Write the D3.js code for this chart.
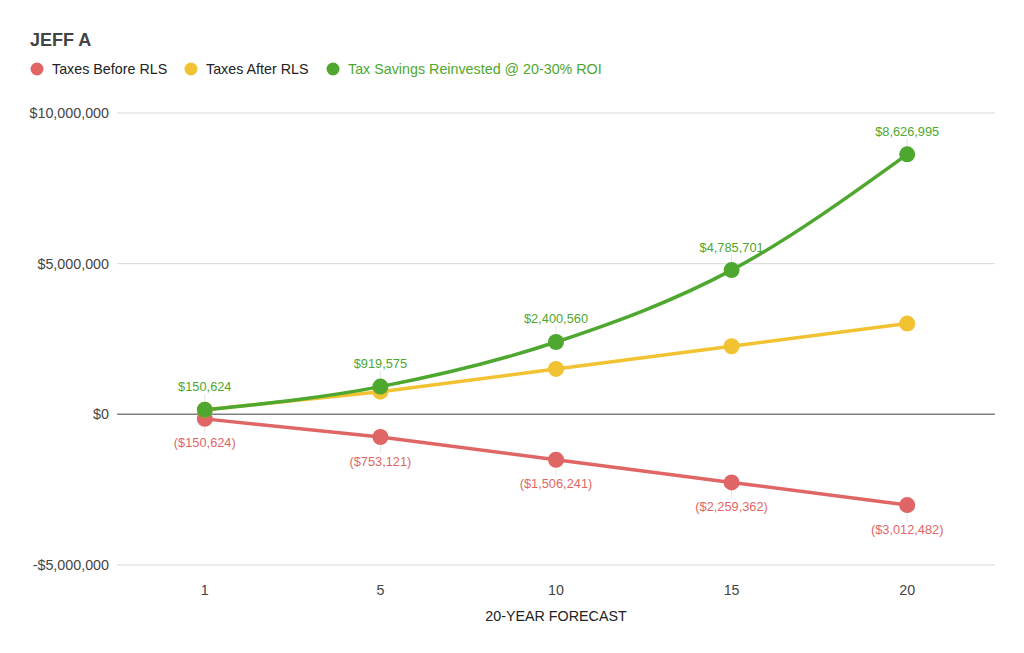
<!DOCTYPE html>
<html>
<head>
<meta charset="utf-8">
<script src="https://cdn.jsdelivr.net/npm/d3@7"></script>
<style>
  body { margin: 0; background: #fff; }
  svg { display: block; font-family: "Liberation Sans", Arial, sans-serif; }
</style>
</head>
<body>
<div id="chart"></div>
<script>
// chart data
const years = ["1", "5", "10", "15", "20"];
const taxesBefore = [-150624, -753121, -1506241, -2259362, -3012482];
const taxesAfter = [150624, 753121, 1506241, 2259362, 3012482];
const savingsReinvested = [150624, 919575, 2400560, 4785701, 8626995];
const yTicks = [-5000000, 0, 5000000, 10000000];

const seriesNames = ["Taxes Before RLS", "Taxes After RLS", "Tax Savings Reinvested @ 20-30% ROI"];
const colors = ["#e06666", "#f1c232", "#4ea72e"];

const width = 1024, height = 653;
const margin = { top: 113, right: 29, bottom: 88, left: 117 };
const fontSize = 14.3;

const svg = d3.select("#chart").append("svg")
    .attr("width", width)
    .attr("height", height);

// title
svg.append("text")
    .attr("x", 30).attr("y", 46)
    .attr("font-size", 18).attr("font-weight", "bold")
    .attr("fill", "#444")
    .text("JEFF A");

// legend
const legendX = [37, 191, 333];
const legend = svg.append("g").attr("class", "legend");
seriesNames.forEach((name, i) => {
    legend.append("circle")
        .attr("cx", legendX[i]).attr("cy", 69).attr("r", 6.5)
        .attr("fill", colors[i]);
    legend.append("text")
        .attr("x", legendX[i] + 15).attr("y", 69).attr("dy", "0.35em")
        .attr("font-size", fontSize)
        .attr("fill", i === 2 ? colors[2] : "#222")
        .text(name);
});

const x = d3.scaleBand()
    .domain(years)
    .range([margin.left, width - margin.right]);
const cx = d => x(d) + x.bandwidth() / 2;

const y = d3.scaleLinear()
    .domain([-5000000, 10000000])
    .range([height - margin.bottom, margin.top]);

// gridlines and y labels
const money = d3.format("$,");
svg.append("g").selectAll("line")
    .data(yTicks.filter(t => t !== 0))
    .enter().append("line")
    .attr("x1", margin.left).attr("x2", width - margin.right)
    .attr("y1", d => y(d)).attr("y2", d => y(d))
    .attr("stroke", "#d9d9d9").attr("stroke-width", 1);

svg.append("g").selectAll("text")
    .data(yTicks)
    .enter().append("text")
    .attr("x", margin.left - 8).attr("y", d => y(d)).attr("dy", "0.35em")
    .attr("text-anchor", "end").attr("font-size", fontSize).attr("fill", "#444")
    .text(d => d < 0 ? "-" + money(-d) : money(d));

// x labels
svg.append("g").selectAll("text")
    .data(years)
    .enter().append("text")
    .attr("x", d => cx(d)).attr("y", 590).attr("dy", "0.35em")
    .attr("text-anchor", "middle").attr("font-size", fontSize).attr("fill", "#444")
    .text(d => d);

svg.append("text")
    .attr("x", (margin.left + width - margin.right) / 2).attr("y", 616).attr("dy", "0.35em")
    .attr("text-anchor", "middle").attr("font-size", fontSize).attr("fill", "#222")
    .text("20-YEAR FORECAST");

// zero baseline
svg.append("line")
    .attr("x1", margin.left).attr("x2", width - margin.right)
    .attr("y1", y(0)).attr("y2", y(0))
    .attr("stroke", "#808080").attr("stroke-width", 1.5);

const series = [
    { values: taxesBefore, color: colors[0], curve: d3.curveLinear, label: "below" },
    { values: taxesAfter, color: colors[1], curve: d3.curveLinear, label: null },
    { values: savingsReinvested, color: colors[2], curve: d3.curveMonotoneX, label: "above" }
];

// data label leader lines drawn under the marks
series.forEach(s => {
    if (!s.label) return;
    const dir = s.label === "above" ? -1 : 1;
    svg.append("g").selectAll("line")
        .data(years)
        .enter().append("line")
        .attr("x1", d => cx(d)).attr("x2", d => cx(d))
        .attr("y1", (d, i) => y(s.values[i]))
        .attr("y2", (d, i) => y(s.values[i]) + dir * 16)
        .attr("stroke", "#e6e6e6").attr("stroke-width", 1);
});

series.forEach(s => {
    const line = d3.line()
        .x(d => cx(d))
        .y((d, i) => y(s.values[i]))
        .curve(s.curve);
    svg.append("path")
        .datum(years)
        .attr("fill", "none")
        .attr("stroke", s.color)
        .attr("stroke-width", 3.5)
        .attr("d", line);
});

series.forEach(s => {
    svg.append("g").selectAll("circle")
        .data(years)
        .enter().append("circle")
        .attr("cx", d => cx(d))
        .attr("cy", (d, i) => y(s.values[i]))
        .attr("r", 8)
        .attr("fill", s.color);
});

// data labels
series.forEach(s => {
    if (!s.label) return;
    const above = s.label === "above";
    svg.append("g").selectAll("text")
        .data(years)
        .enter().append("text")
        .attr("x", d => cx(d))
        .attr("y", (d, i) => y(s.values[i]) + (above ? -23 : 24))
        .attr("dy", "0.35em")
        .attr("text-anchor", "middle")
        .attr("font-size", 12.8)
        .attr("fill", s.color)
        .text((d, i) => {
            const v = s.values[i];
            return v < 0 ? "(" + money(-v) + ")" : money(v);
        });
});
</script>
</body>
</html>
